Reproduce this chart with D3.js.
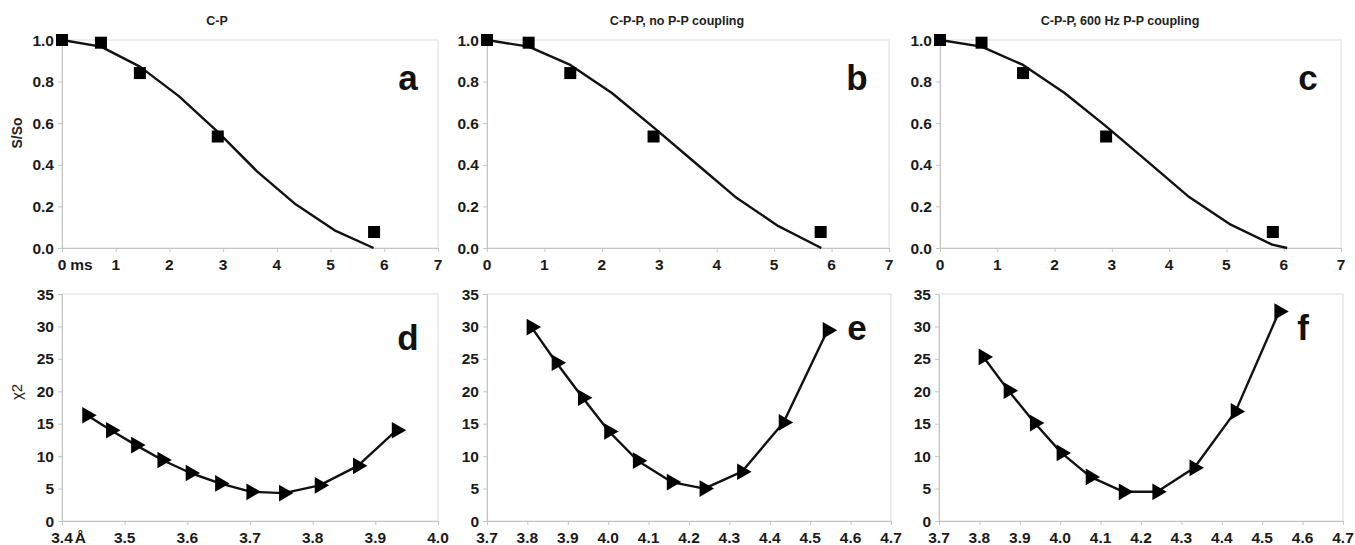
<!DOCTYPE html>
<html><head><meta charset="utf-8">
<script src="https://cdn.jsdelivr.net/npm/d3@7"></script>
<style>
body{margin:0;background:#fff;}
text{font-family:"Liberation Sans",Arial,sans-serif;}
</style></head>
<body><svg id="c" width="1355" height="545"></svg>
<script>
// ---------- DATA ----------
const timeTicks = [0,1,2,3,4,5,6,7];
const ratioTicks = [0,0.2,0.4,0.6,0.8,1.0];
const chiTicks = [0,5,10,15,20,25,30,35];
const distTicksD = [3.4,3.5,3.6,3.7,3.8,3.9,4.0];
const distTicksEF = [3.7,3.8,3.9,4.0,4.1,4.2,4.3,4.4,4.5,4.6,4.7];

const expTime = [0, 0.725, 1.45, 2.9, 5.81];
const expRatio = [1.0, 0.987, 0.841, 0.536, 0.077];

const fitTimeA = [0, 0.725, 1.45, 2.175, 2.9, 3.625, 4.35, 5.075, 5.8];
const fitRatioA = [1.0, 0.968, 0.872, 0.73, 0.558, 0.37, 0.21, 0.085, 0.0];
const fitTimeB = [0, 0.725, 1.45, 2.175, 2.9, 3.625, 4.35, 5.075, 5.82];
const fitRatioB = [1.0, 0.968, 0.88, 0.745, 0.58, 0.41, 0.24, 0.105, 0.0];
const fitTimeC = [0, 0.725, 1.45, 2.175, 2.9, 3.625, 4.35, 5.075, 5.8, 6.06];
const fitRatioC = [1.0, 0.968, 0.88, 0.745, 0.585, 0.415, 0.245, 0.112, 0.016, 0.0];

const distD = [3.44, 3.478, 3.518, 3.56, 3.605, 3.652, 3.702, 3.754, 3.811, 3.872, 3.934];
const chiD  = [16.3, 14.0, 11.7, 9.4, 7.4, 5.8, 4.5, 4.3, 5.5, 8.5, 14.0];
const distE = [3.81, 3.872, 3.937, 4.002, 4.073, 4.157, 4.238, 4.331, 4.434, 4.543];
const chiE  = [29.9, 24.4, 19.0, 13.8, 9.3, 6.0, 5.0, 7.6, 15.2, 29.4];
const distF = [3.81, 3.872, 3.937, 4.003, 4.075, 4.157, 4.24, 4.332, 4.434, 4.542];
const chiF  = [25.3, 20.1, 15.1, 10.5, 6.8, 4.5, 4.5, 8.2, 16.9, 32.3];

const titles = ["C-P", "C-P-P, no P-P coupling", "C-P-P, 600 Hz P-P coupling"];
const letters = ["a","b","c","d","e","f"];

// ---------- LAYOUT ----------
const svg = d3.select("#c");
const cols = [[62,438],[487,889],[940,1341]];
const topRow = [40,248], botRow = [294,521];
const TICKFONT = 15.5;

function panel(opts){
  const g = svg.append("g");
  const x = d3.scaleLinear().domain(opts.xd).range(opts.xr);
  const y = d3.scaleLinear().domain(opts.yd).range([opts.yr[1], opts.yr[0]]);
  g.append("rect").attr("x",opts.xr[0]).attr("y",opts.yr[0])
    .attr("width",opts.xr[1]-opts.xr[0]).attr("height",opts.yr[1]-opts.yr[0])
    .attr("fill","none").attr("stroke","#dcdcdc").attr("stroke-width",1);
  const xa = g.append("g").attr("transform",`translate(0,${opts.yr[1]})`)
    .call(d3.axisBottom(x).tickValues(opts.xt).tickSize(4).tickSizeOuter(0).tickFormat(""));
  const ya = g.append("g").attr("transform",`translate(${opts.xr[0]},0)`)
    .call(d3.axisLeft(y).tickValues(opts.yt).tickSize(4).tickSizeOuter(0).tickFormat(""));
  [xa,ya].forEach(a=>{a.selectAll("path,line").attr("stroke","#c4c4c4");});
  opts.xt.forEach((v,i)=>{
    const t = g.append("text").attr("x",x(v)).attr("y",opts.yr[1]+22)
      .attr("text-anchor","middle").attr("font-size",TICKFONT).attr("font-weight","bold")
      .attr("fill","#1a1a1a").text(opts.xf(v));
    if(i===0 && opts.xsuffix){
      const w = t.node().getComputedTextLength();
      g.append("text").attr("x",x(v)+w/2+opts.xsgap).attr("y",opts.yr[1]+22)
        .attr("font-size",TICKFONT).attr("font-weight","bold").attr("fill","#1a1a1a").text(opts.xsuffix);
    }
  });
  opts.yt.forEach(v=>{
    g.append("text").attr("x",opts.xr[0]-8).attr("y",y(v)+5.5)
      .attr("text-anchor","end").attr("font-size",TICKFONT).attr("font-weight","bold")
      .attr("fill","#1a1a1a").text(opts.yf(v));
  });
  const line = d3.line().x(d=>x(d[0])).y(d=>y(d[1]));
  g.append("path").datum(d3.zip(opts.lx,opts.ly)).attr("d",line)
    .attr("fill","none").attr("stroke","#111").attr("stroke-width",2.4).attr("stroke-linejoin","round");
  if(opts.marker==="square"){
    g.selectAll("rect.m").data(d3.zip(opts.px,opts.py)).join("rect")
      .attr("x",d=>x(d[0])-6).attr("y",d=>y(d[1])-6)
      .attr("width",12).attr("height",12).attr("fill","#000");
  } else {
    const tri = d3.symbol().type(d3.symbolTriangle).size(120);
    g.selectAll("path.m").data(d3.zip(opts.px,opts.py)).join("path")
      .attr("d",tri()).attr("fill","#000")
      .attr("transform",d=>`translate(${x(d[0])},${y(d[1])}) rotate(90)`);
  }
  g.append("text").attr("x",opts.lpos[0]).attr("y",opts.lpos[1]).attr("text-anchor","middle")
    .attr("font-size",35).attr("font-weight","bold").attr("fill","#111").text(opts.letter);
}

const f1 = d3.format(".1f");
const topFits = [[fitTimeA,fitRatioA],[fitTimeB,fitRatioB],[fitTimeC,fitRatioC]];
const titleX = [217,677,1120];
const letterTop = [[408,90],[857,90],[1308,90]];
for(let i=0;i<3;i++){
  panel({xd:[0,7],xr:cols[i],yd:[0,1],yr:topRow,xt:timeTicks,yt:ratioTicks,
    xf:d3.format("d"),yf:f1,xsuffix:i===0?"ms":null,xsgap:4,
    lx:topFits[i][0],ly:topFits[i][1],px:expTime,py:expRatio,marker:"square",
    letter:letters[i],lpos:letterTop[i]});
  svg.append("text").attr("x",titleX[i]).attr("y",25).attr("text-anchor","middle")
    .attr("font-size",12.5).attr("font-weight","bold").attr("fill","#222").text(titles[i]);
}
const botData = [[distD,chiD],[distE,chiE],[distF,chiF]];
const letterBot = [[408,350],[857,340],[1303,340]];
const xBotD = [[3.4,4.0],[3.7,4.7],[3.7,4.7]];
const xBotT = [distTicksD,distTicksEF,distTicksEF];
const xBotR = [[62,438],[487,891],[939,1343]];
for(let i=0;i<3;i++){
  panel({xd:xBotD[i],xr:xBotR[i],yd:[0,35],yr:botRow,xt:xBotT[i],yt:chiTicks,
    xf:f1,yf:d3.format("d"),xsuffix:i===0?"Å":null,xsgap:2,
    lx:botData[i][0],ly:botData[i][1],px:botData[i][0],py:botData[i][1],marker:"tri",
    letter:letters[i+3],lpos:letterBot[i]});
}
svg.append("text").attr("transform","translate(22,133) rotate(-90)").attr("text-anchor","middle")
  .attr("font-size",14).attr("font-weight","bold").attr("fill","#222").text("S/So");
svg.append("text").attr("transform","translate(22,392) rotate(-90)").attr("text-anchor","middle")
  .attr("font-size",15).attr("fill","#222").text("χ2");
</script></body></html>
